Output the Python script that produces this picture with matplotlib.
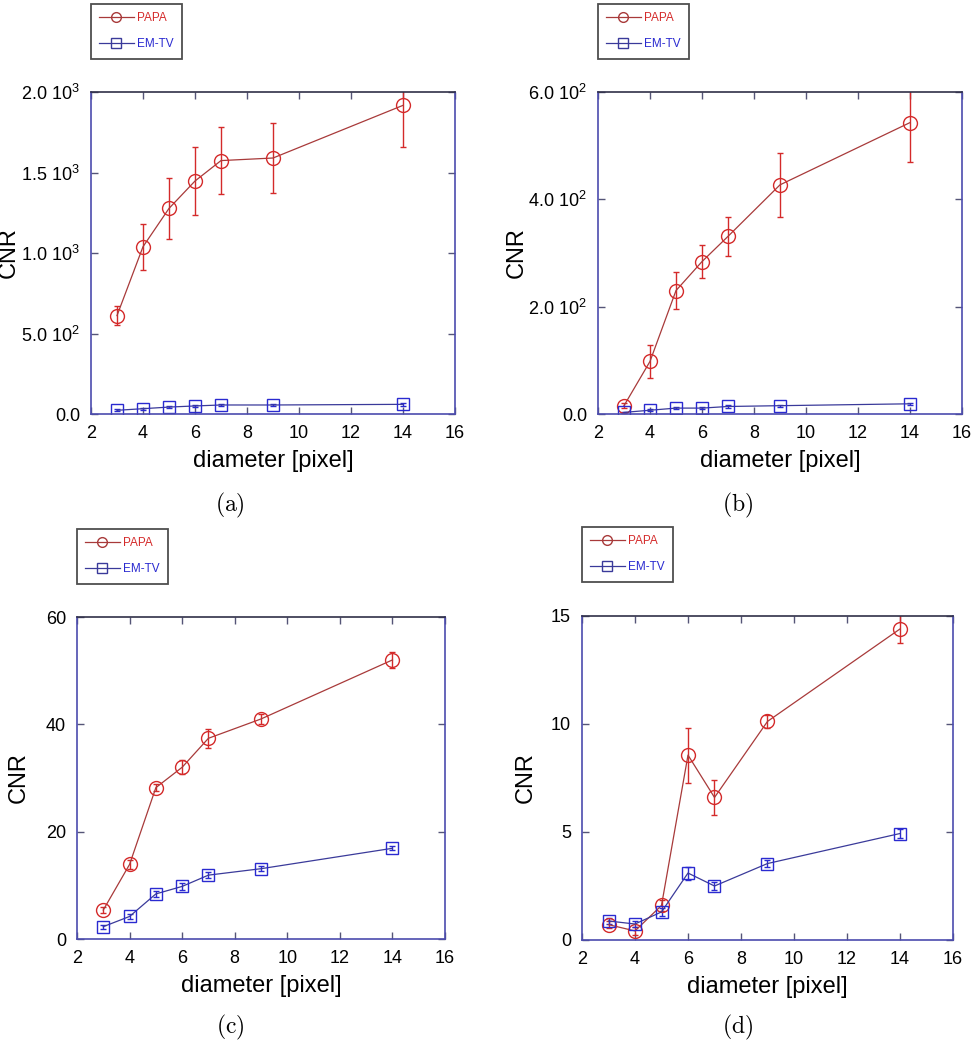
import matplotlib
matplotlib.use("Agg")
import matplotlib.pyplot as plt
from matplotlib.lines import Line2D
import numpy as np

plt.rcParams['font.family'] = ['Liberation Sans', 'DejaVu Sans']

# diameters shared by all four panels
diam = [3, 4, 5, 6, 7, 9, 14]

# (a)
papa_a = [611, 1039, 1277, 1447, 1574, 1590, 1917]
papa_a_err = [60, 143, 190, 210, 208, 215, 260]
emtv_a = [23, 33, 43, 50, 56, 56, 60]
emtv_a_err = [5, 6, 6, 7, 7, 7, 8]

# (b)
papa_b = [15.5, 98, 230, 284, 331, 427, 543]
papa_b_err = [5, 30, 34, 30, 37, 60, 73]
emtv_b = [3, 7, 11, 11, 14, 15.5, 19]
emtv_b_err = [1, 2, 2, 2, 2, 2, 2]

# (c)
papa_c = [5.4, 13.9, 28.2, 32.0, 37.4, 41.0, 52.0]
papa_c_err = [0.6, 0.8, 0.7, 1.3, 1.8, 1.0, 1.5]
emtv_c = [2.3, 4.2, 8.4, 9.8, 11.9, 13.1, 16.9]
emtv_c_err = [0.4, 0.4, 0.5, 0.6, 0.6, 0.5, 0.4]

# (d)
papa_d = [0.71, 0.42, 1.6, 8.56, 6.6, 10.12, 14.4]
papa_d_err = [0.15, 0.2, 0.25, 1.27, 0.83, 0.3, 0.65]
emtv_d = [0.88, 0.74, 1.3, 3.1, 2.5, 3.54, 4.93]
emtv_d_err = [0.15, 0.15, 0.2, 0.3, 0.2, 0.15, 0.2]

ticks_a = [0, 500, 1000, 1500, 2000]
labels_a = ['0.0', r'5.0 $\mathregular{10^{2}}$', r'1.0 $\mathregular{10^{3}}$',
            r'1.5 $\mathregular{10^{3}}$', r'2.0 $\mathregular{10^{3}}$']
ticks_b = [0, 200, 400, 600]
labels_b = ['0.0', r'2.0 $\mathregular{10^{2}}$', r'4.0 $\mathregular{10^{2}}$',
            r'6.0 $\mathregular{10^{2}}$']
ticks_c = [0, 20, 40, 60]
ticks_d = [0, 5, 10, 15]

W, H = 977, 1050
RED = '#d42a2a'
RED_LINE = '#a83a3a'
BLUE = '#2a2ad0'
BLUE_LINE = '#3a3a9a'
SPINE = '#4c4cae'

fig = plt.figure(figsize=(W / 100, H / 100), dpi=100)


def px_axes(left, right, top, bottom):
    return fig.add_axes([left / W, 1 - bottom / H, (right - left) / W, (bottom - top) / H])


panels = [
    # axes box, legend box (left, top), caption pos, ylabel x (axes coords), data
    ((91, 455, 92, 414), (91, 4), (230, 505), -0.225, papa_a, papa_a_err, emtv_a, emtv_a_err, ticks_a, labels_a, '(a)'),
    ((598, 962, 92, 414), (598, 4), (738, 505), -0.222, papa_b, papa_b_err, emtv_b, emtv_b_err, ticks_b, labels_b, '(b)'),
    ((77, 445, 617, 939), (77, 529), (230, 1027), -0.158, papa_c, papa_c_err, emtv_c, emtv_c_err, ticks_c, [str(t) for t in ticks_c], '(c)'),
    ((582, 953, 616, 940), (582, 527), (738, 1027), -0.151, papa_d, papa_d_err, emtv_d, emtv_d_err, ticks_d, [str(t) for t in ticks_d], '(d)'),
]

for box, leg, cap, ylx, py, pe, ey, ee, yt, yl, name in panels:
    ax = px_axes(*box)
    ax.errorbar(diam, py, yerr=pe, color=RED_LINE, ecolor=RED, lw=0.9, elinewidth=1.0,
                capsize=2.5, marker='o', ms=10, mfc='none', mec=RED, mew=1.0)
    ax.errorbar(diam, ey, yerr=ee, color=BLUE_LINE, ecolor=BLUE, lw=0.9, elinewidth=1.0,
                capsize=2.5, marker='s', ms=9, mfc='none', mec=BLUE, mew=1.0)
    ax.set_xlim(2, 16)
    ax.set_ylim(yt[0], yt[-1])
    ax.set_xticks(range(2, 17, 2))
    ax.set_yticks(yt)
    ax.set_yticklabels(yl)
    ax.tick_params(direction='in', top=True, right=True, length=5, width=1,
                   color='#555577', labelsize=13, pad=8)
    for side in ['left', 'right', 'bottom']:
        ax.spines[side].set_color(SPINE)
        ax.spines[side].set_linewidth(1.2)
    ax.spines['top'].set_color('#303048')
    ax.spines['top'].set_linewidth(1.2)
    ax.set_xlabel('diameter [pixel]', fontsize=17, labelpad=6)
    ax.set_ylabel('CNR', fontsize=17, va='center')
    ax.yaxis.set_label_coords(ylx, 0.5)

    handles = [Line2D([], [], color=RED_LINE, lw=0.9, marker='o', ms=7, mfc='none', mec=RED_LINE),
               Line2D([], [], color=BLUE_LINE, lw=0.9, marker='s', ms=7, mfc='none', mec=BLUE_LINE)]
    lg = ax.legend(handles, ['PAPA', 'EM-TV'], loc='upper left',
                   bbox_to_anchor=(leg[0] / W, 1 - leg[1] / H),
                   bbox_transform=fig.transFigure, fontsize=8.5, frameon=True,
                   fancybox=False, edgecolor='#222222', handlelength=2.9,
                   labelspacing=1.2, borderpad=0.7, handletextpad=0.3,
                   labelcolor=[RED, BLUE], borderaxespad=0)
    lg.get_frame().set_linewidth(1.3)

    fig.text(cap[0] / W, 1 - cap[1] / H, r'$\mathrm{%s}$' % name, fontsize=17,
             ha='center', va='center', math_fontfamily='cm')

fig.savefig('out.png', dpi=100)
